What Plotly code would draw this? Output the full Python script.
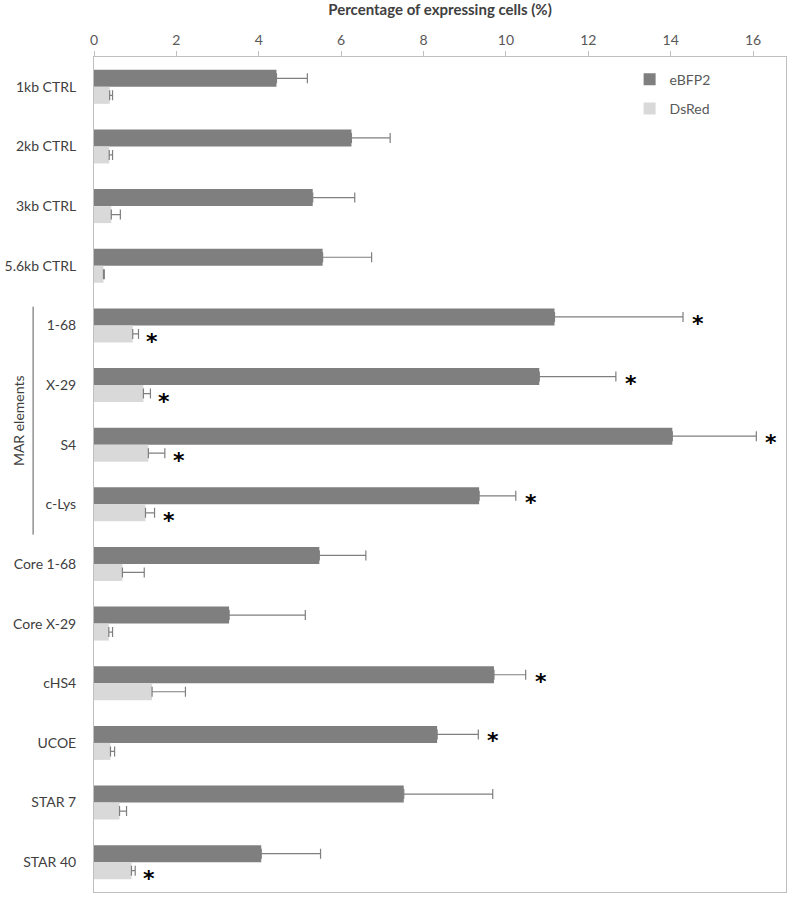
import plotly.graph_objects as go

categories = ["1kb CTRL", "2kb CTRL", "3kb CTRL", "5.6kb CTRL", "1-68", "X-29", "S4", "c-Lys",
              "Core 1-68", "Core X-29", "cHS4", "UCOE", "STAR 7", "STAR 40"]
ebfp2 = [4.43, 6.25, 5.31, 5.55, 11.18, 10.81, 14.04, 9.35, 5.47, 3.28, 9.71, 8.33, 7.52, 4.06]
ebfp2_err = [0.75, 0.94, 1.02, 1.19, 3.12, 1.86, 2.04, 0.89, 1.13, 1.85, 0.77, 1.00, 2.16, 1.44]
dsred = [0.38, 0.37, 0.42, 0.23, 0.94, 1.20, 1.32, 1.25, 0.69, 0.36, 1.41, 0.40, 0.62, 0.91]
dsred_err = [0.07, 0.08, 0.22, 0.02, 0.14, 0.17, 0.40, 0.22, 0.53, 0.09, 0.81, 0.10, 0.17, 0.09]
ebfp2_sig = [False, False, False, False, True, True, True, True, False, False, True, True, False, False]
dsred_sig = [False, False, False, False, True, True, True, True, False, False, False, False, False, True]
x_ticks = [0, 2, 4, 6, 8, 10, 12, 14, 16]

FONT = "Lato"
err_style = dict(type="data", symmetric=False, color="#7f7f7f", thickness=1.2, width=5)
star_font = dict(family="DejaVu Sans", size=22, color="#000000")

fig = go.Figure()
fig.add_trace(go.Bar(
    y=categories, x=ebfp2, orientation="h", name="eBFP2", legendgroup="a",
    marker=dict(color="#7f7f7f", line=dict(width=0)),
    error_x=dict(array=ebfp2_err, arrayminus=[0] * len(ebfp2), **err_style),
))
fig.add_trace(go.Bar(
    y=categories, x=dsred, orientation="h", name="DsRed", legendgroup="b",
    marker=dict(color="#d9d9d9", line=dict(width=0)),
    error_x=dict(array=dsred_err, arrayminus=[0] * len(dsred), **err_style),
))

annotations = []
for cat, v, e, s in zip(categories, ebfp2, ebfp2_err, ebfp2_sig):
    if s:
        annotations.append(dict(x=v + e, y=cat, xref="x", yref="y", text="<b>*</b>", showarrow=False,
                                xanchor="center", yanchor="middle", xshift=15, yshift=2,
                                font=star_font))
for cat, v, e, s in zip(categories, dsred, dsred_err, dsred_sig):
    if s:
        annotations.append(dict(x=v + e, y=cat, xref="x", yref="y", text="<b>*</b>", showarrow=False,
                                xanchor="center", yanchor="middle", xshift=14, yshift=-16,
                                font=star_font))

annotations.append(dict(x=-0.11, y=0.565, xref="paper", yref="paper", text="MAR elements",
                        textangle=-90, showarrow=False, xanchor="center", yanchor="middle",
                        font=dict(family=FONT, size=14, color="#404040")))

fig.update_layout(
    width=796, height=899,
    margin=dict(l=94, r=10, t=57, b=7, autoexpand=False),
    paper_bgcolor="white", plot_bgcolor="white",
    barmode="group", bargap=0.43, bargroupgap=0,
    font=dict(family=FONT, size=14, color="#404040"),
    showlegend=True,
    legend=dict(x=0.774, y=0.992, xanchor="left", yanchor="top", traceorder="grouped",
                tracegroupgap=8, bgcolor="rgba(0,0,0,0)",
                font=dict(family=FONT, size=14, color="#595959")),
    annotations=annotations,
    shapes=[dict(type="line", xref="paper", yref="paper", x0=-0.088, x1=-0.088,
                 y0=0.701, y1=0.428,
                 line=dict(color="#595959", width=1))],
)
fig.update_xaxes(
    automargin=False,
    side="top", range=[0, 16.8], tickvals=x_ticks, ticktext=[str(t) for t in x_ticks],
    showgrid=False, zeroline=False, showline=True, linecolor="#bfbfbf", linewidth=1,
    mirror=True, ticks="outside", ticklen=5, tickcolor="#bfbfbf",
    tickfont=dict(family=FONT, size=14, color="#595959"),
    title=dict(text="<b>Percentage of expressing cells (%)</b>", standoff=20,
               font=dict(family=FONT, size=15, color="#404040")),
)
fig.update_yaxes(
    automargin=False,
    autorange="reversed", showgrid=False, zeroline=False, showline=True,
    linecolor="#bfbfbf", linewidth=1, mirror=True, ticks="outside", ticklen=14,
    tickcolor="rgba(0,0,0,0)", tickfont=dict(family=FONT, size=14, color="#404040"),
)

fig.write_html("out.html", config={"displayModeBar": False},
               post_script="document.body.style.margin='0';")
